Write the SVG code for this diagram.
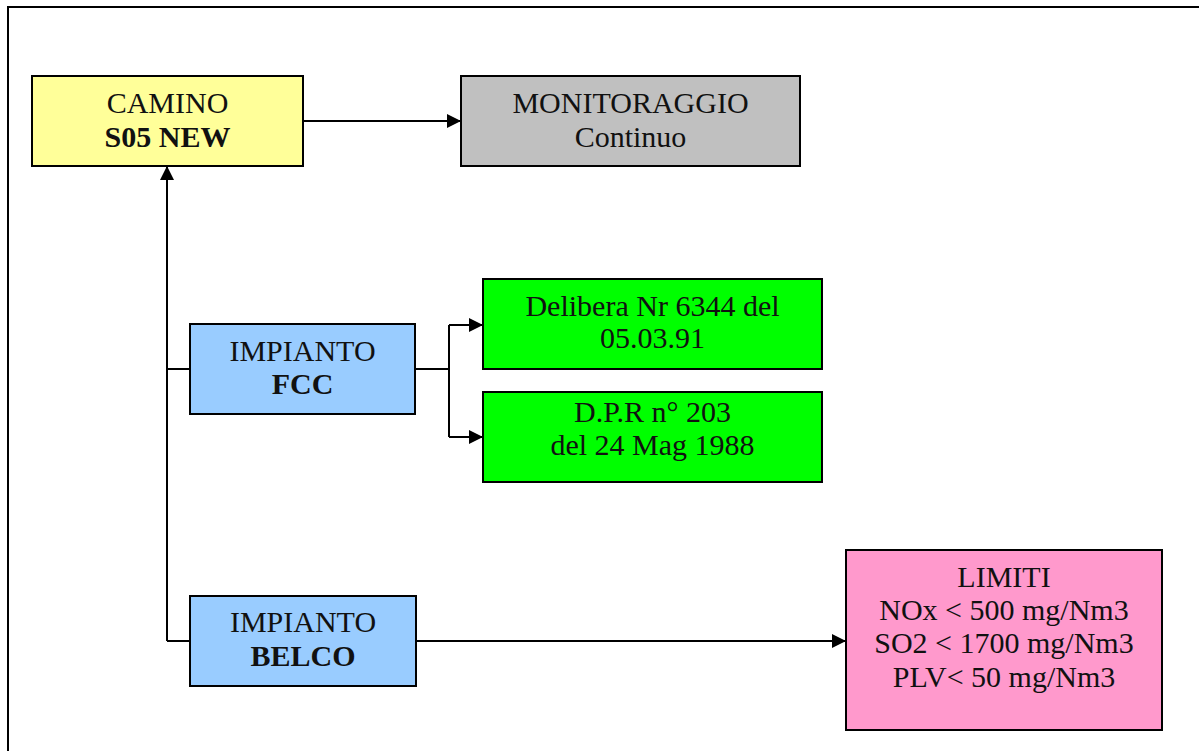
<svg xmlns="http://www.w3.org/2000/svg" width="1199" height="751" viewBox="0 0 1199 751">
<style>
.box{stroke:#000;stroke-width:2}
.t{font-family:"Liberation Serif","DejaVu Serif",serif;font-size:30px;fill:#111;text-anchor:middle}
.b{font-weight:bold}
.c{fill:none;stroke:#000;stroke-width:2}
</style>
<defs>
<marker id="ah" markerWidth="14" markerHeight="14" refX="14" refY="7" orient="auto" markerUnits="userSpaceOnUse">
<path d="M0,0 L14,7 L0,14 Z" fill="#000"/>
</marker>
</defs>
<rect width="1199" height="751" fill="#fff"/>
<path d="M8,760 L8,7 L1210,7" fill="none" stroke="#000" stroke-width="2"/>
<g id="connectors">
<path class="c" d="M303,121 L461,121" marker-end="url(#ah)"/>
<path class="c" d="M190,369 L167,369 M190,641 L167,641 M167,641 L167,166" marker-end="url(#ah)"/>
<path class="c" d="M415,369 L449,369 M449,325 L449,437"/>
<path class="c" d="M449,325 L483,325" marker-end="url(#ah)"/>
<path class="c" d="M449,437 L483,437" marker-end="url(#ah)"/>
<path class="c" d="M416,641 L846,641" marker-end="url(#ah)"/>
</g>
<g id="camino">
<rect class="box" x="32" y="76" width="271" height="90" fill="#FFFF99"/>
<text class="t" font-family="Liberation Serif, DejaVu Serif, serif" x="167.5" y="113">CAMINO</text>
<text class="t b" font-family="Liberation Serif, DejaVu Serif, serif" x="167.5" y="147">S05 NEW</text>
</g>
<g id="monitoraggio">
<rect class="box" x="461" y="76" width="339" height="90" fill="#C0C0C0"/>
<text class="t" font-family="Liberation Serif, DejaVu Serif, serif" x="630.5" y="113">MONITORAGGIO</text>
<text class="t" font-family="Liberation Serif, DejaVu Serif, serif" x="630.5" y="147">Continuo</text>
</g>
<g id="fcc">
<rect class="box" x="190" y="324" width="225" height="90" fill="#99CCFF"/>
<text class="t" font-family="Liberation Serif, DejaVu Serif, serif" x="302.5" y="361">IMPIANTO</text>
<text class="t b" font-family="Liberation Serif, DejaVu Serif, serif" x="302.5" y="394">FCC</text>
</g>
<g id="delibera">
<rect class="box" x="483" y="279" width="339" height="90" fill="#00FF00"/>
<text class="t" font-family="Liberation Serif, DejaVu Serif, serif" x="652.5" y="316">Delibera Nr 6344 del</text>
<text class="t" font-family="Liberation Serif, DejaVu Serif, serif" x="652.5" y="348">05.03.91</text>
</g>
<g id="dpr">
<rect class="box" x="483" y="392" width="339" height="90" fill="#00FF00"/>
<text class="t" font-family="Liberation Serif, DejaVu Serif, serif" x="652.5" y="422">D.P.R n° 203</text>
<text class="t" font-family="Liberation Serif, DejaVu Serif, serif" x="652.5" y="455">del 24 Mag 1988</text>
</g>
<g id="belco">
<rect class="box" x="190" y="596" width="226" height="90" fill="#99CCFF"/>
<text class="t" font-family="Liberation Serif, DejaVu Serif, serif" x="303" y="632">IMPIANTO</text>
<text class="t b" font-family="Liberation Serif, DejaVu Serif, serif" x="303" y="666">BELCO</text>
</g>
<g id="limiti">
<rect class="box" x="846" y="550" width="316" height="180" fill="#FF99CC"/>
<text class="t" font-family="Liberation Serif, DejaVu Serif, serif" x="1004" y="587">LIMITI</text>
<text class="t" font-family="Liberation Serif, DejaVu Serif, serif" x="1004" y="620">NOx &lt; 500 mg/Nm3</text>
<text class="t" font-family="Liberation Serif, DejaVu Serif, serif" x="1004" y="653">SO2 &lt; 1700 mg/Nm3</text>
<text class="t" font-family="Liberation Serif, DejaVu Serif, serif" x="1004" y="687">PLV&lt; 50 mg/Nm3</text>
</g>
</svg>
